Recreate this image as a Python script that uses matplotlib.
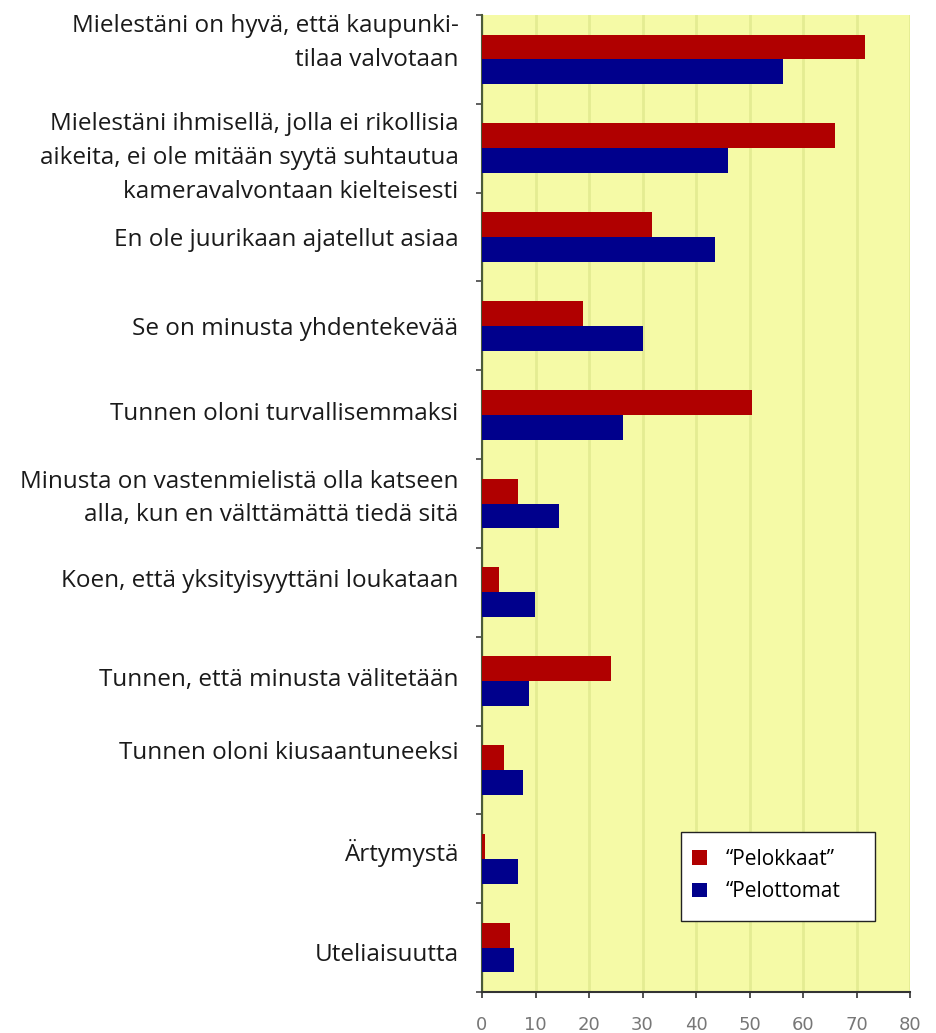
import matplotlib
matplotlib.use("Agg")
import matplotlib.pyplot as plt
import matplotlib.transforms as mtransforms
from matplotlib.patches import Rectangle
import numpy as np

categories = [
    "Mielestäni on hyvä, että kaupunki-\ntilaa valvotaan",
    "Mielestäni ihmisellä, jolla ei rikollisia\naikeita, ei ole mitään syytä suhtautua\nkameravalvontaan kielteisesti",
    "En ole juurikaan ajatellut asiaa",
    "Se on minusta yhdentekevää",
    "Tunnen oloni turvallisemmaksi",
    "Minusta on vastenmielistä olla katseen\nalla, kun en välttämättä tiedä sitä",
    "Koen, että yksityisyyttäni loukataan",
    "Tunnen, että minusta välitetään",
    "Tunnen oloni kiusaantuneeksi",
    "Ärtymystä",
    "Uteliaisuutta",
]
pelokkaat = [71.6, 66.0, 31.8, 18.9, 50.5, 6.7, 3.2, 24.2, 4.2, 0.6, 5.2]
pelottomat = [56.2, 45.9, 43.6, 30.1, 26.3, 14.4, 9.9, 8.8, 7.6, 6.7, 6.0]
series_names = ["\u201cPelokkaat\u201d", "\u201cPelottomat"]
xticks = [0, 10, 20, 30, 40, 50, 60, 70, 80]

# vertical pixel nudges of the category labels (positive = up)
label_nudge = [24, -2, 0, 0, 4, 13, 14, 4, 20, 9, -4]

fig = plt.figure(figsize=(9.36, 10.33), dpi=100)
ax = fig.add_axes([482/936, 1-992/1033, (910-482)/936, (992-15)/1033])
ax.set_facecolor("#F5FAA6")

y = np.arange(len(categories))
h = 0.28
ax.barh(y - h/2, pelokkaat, height=h, color="#B00000", label=series_names[0], zorder=3)
ax.barh(y + h/2, pelottomat, height=h, color="#00008C", label=series_names[1], zorder=3)

ax.set_xlim(0, 80)
ax.set_ylim(len(categories) - 0.5, -0.5)
ax.set_xticks(xticks)
ax.set_xticklabels([str(t) for t in xticks], fontsize=13, color="#777777", family="DejaVu Sans")
ax.xaxis.grid(True, color="#E4EC92", linewidth=2, zorder=0)
ax.set_axisbelow(True)

ax.set_yticks(y)
ax.set_yticklabels(categories, fontsize=17.5, family="Open Sans", color="#1a1a1a", linespacing=1.55, ha="right")
ax.tick_params(axis="y", which="major", length=0, pad=17)
ax.set_yticks(np.arange(-0.5, len(categories) + 0.5, 1), minor=True)
ax.tick_params(axis="y", which="minor", length=4, width=1.2, color="#444444", direction="out")
ax.tick_params(axis="x", length=4, width=1.2, color="#333333", pad=13.5)

for lab, dy in zip(ax.get_yticklabels(), label_nudge):
    lab.set_transform(lab.get_transform() + mtransforms.ScaledTranslation(0, dy/100, fig.dpi_scale_trans))

for s in ["top", "right"]:
    ax.spines[s].set_visible(False)
ax.spines["left"].set_color("#4A5A3A")
ax.spines["left"].set_linewidth(1.5)
ax.spines["bottom"].set_color("#333333")
ax.spines["bottom"].set_linewidth(1.5)

# legend box
bx0, bx1, by0, by1 = 681, 875, 832, 921
ax.add_patch(Rectangle(((bx0-482)/428, 1-(by1-15)/977), (bx1-bx0)/428, (by1-by0)/977,
                       transform=ax.transAxes, facecolor="white", edgecolor="#222222",
                       linewidth=1.0, zorder=5))
leg = ax.legend(loc="upper left", bbox_to_anchor=((692-482)/428, 1-(849-15)/977),
                frameon=False, prop={"family": "Open Sans", "size": 15},
                handlelength=0.7, handleheight=0.7, handletextpad=0.9,
                borderpad=0, labelspacing=0.55, borderaxespad=0)
leg.set_zorder(6)

fig.savefig("out.png", dpi=100)
